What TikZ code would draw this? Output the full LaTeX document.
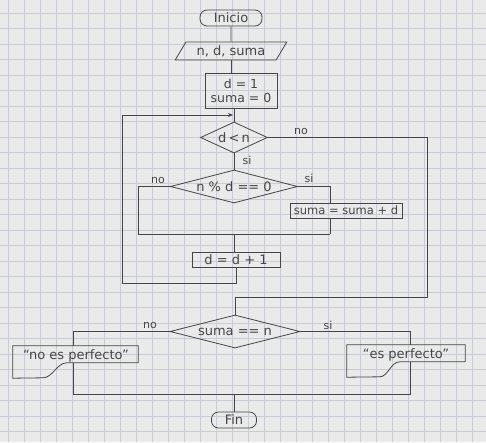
\documentclass[tikz,border=0pt]{standalone}
\usepackage{fontspec}
\setmainfont{DejaVu Sans}
\usetikzlibrary{shapes.geometric,calc,arrows.meta}
\definecolor{paper}{HTML}{EAEAEB}
\definecolor{gridc}{HTML}{CACCD3}
\definecolor{ink}{HTML}{454545}
\begin{document}
\begin{tikzpicture}[x=1pt,y=-1pt,
  every node/.style={font=\fontsize{13}{15}\selectfont, text=ink},
  ln/.style={draw=ink, line width=0.8pt},
  term/.style={ln, rectangle, rounded corners=7pt, minimum height=16pt, inner sep=1pt},
  io/.style={ln, trapezium, trapezium left angle=58, trapezium right angle=122, trapezium stretches=true, minimum height=18pt, inner sep=1pt},
  proc/.style={ln, rectangle, inner sep=1pt},
  dec/.style={ln, diamond, inner sep=0pt},
  docbox/.style={rectangle, inner sep=0pt},
  lbl/.style={font=\fontsize{11}{13}\selectfont, inner sep=1pt},
  con/.style={ln}
]
% paper and grid
\fill[paper] (0,0) rectangle (486,442);
\useasboundingbox (0,0) rectangle (486,442);
\foreach \i in {0,...,30} \draw[gridc, line width=0.6pt] ({8.5+16*\i},0) -- ({8.5+16*\i},442);
\foreach \j in {0,...,28} \draw[gridc, line width=0.6pt] (0,{13+15.5*\j}) -- (486,{13+15.5*\j});

% nodes
\node[term, minimum width=62pt] (ini) at (231,18) {Inicio};
\node[io, minimum width=112pt] (leer) at (231,51) {n, d, suma};
\node[proc, minimum width=72pt, minimum height=35pt, align=center, font=\fontsize{12.5}{14}\selectfont] (init) at (241,90.5) {d = 1\\suma = 0};
\node[dec, minimum width=67pt, minimum height=31pt, shape aspect=2.2] (c1) at (234,137.5) {d\,<\,n};
\node[dec, minimum width=127pt, minimum height=33pt, shape aspect=3.9] (c2) at (234,186.5) {n \% d == 0};
\node[proc, minimum width=112pt, minimum height=15pt, font=\fontsize{11.5}{13}\selectfont] (acum) at (346,210.5) {suma = suma + d};
\node[proc, minimum width=88pt, minimum height=15pt] (incr) at (236,259.5) {d = d + 1};
\node[dec, minimum width=130pt, minimum height=33pt, shape aspect=3.9] (c3) at (235,331.5) {suma == n};
\node[docbox, minimum width=125pt, minimum height=32pt] (o1) at (75.5,362) {};
\node (o1t) at (76,356) {``no es perfecto''};
\node[docbox, minimum width=118pt, minimum height=32pt] (o2) at (406,361) {};
\node (o2t) at (406,355) {``es perfecto''};
\node[term, minimum width=45pt] (fin) at (234,420) {Fin};

% document outlines
\draw[ln] (o1.north west) -- (o1.north east) -- ($(o1.north east)+(0,17)$)
  -- ($(o1.north west)+(54,17)$) .. controls ($(o1.north west)+(44,17)$) and ($(o1.north west)+(40,32)$) .. ($(o1.north west)+(30,32)$)
  -- (o1.south west) -- cycle;
\draw[ln] (o2.north west) -- (o2.north east) -- ($(o2.north east)+(0,17)$)
  -- ($(o2.north west)+(53,17)$) .. controls ($(o2.north west)+(44,17)$) and ($(o2.north west)+(41,32)$) .. ($(o2.north west)+(33,32)$)
  -- (o2.south west) -- cycle;

% helper coordinates
\coordinate (lt) at (122,115);
\coordinate (lb) at (122,283);
\coordinate (rc) at (427,297);
\coordinate (jl) at (138,234);
\coordinate (jr) at (330,234);
\coordinate (bl) at (73,394);
\coordinate (br) at (410,394);

% connectors
\draw[con] (ini.south) -- (leer.north);
\draw[con] (leer.south) -- (leer.south |- init.north);
\draw[con] (c1.north |- init.south) -- (c1.north);
\draw[con, -{Stealth[length=5pt,width=4pt]}] (incr.south) |- (lb) -- (lt) -- ($(lt -| c1.north)+(-1,0)$);
\draw[con] (c1.east) -| (rc) -| (c3.north);
\draw[con] (c1.south) -- (c2.north);
\draw[con] (c2.west) -| (jl) -- (jr);
\draw[con] (c2.east) -| (jr |- acum.north);
\draw[con] (jr |- acum.south) -- (jr);
\draw[con] (c2.south |- jl) -- (c2.south |- incr.north);
\draw[con] (c3.west) -| (bl |- o1.north);
\draw[con] (c3.east) -| (br |- o2.north);
\draw[con] ($(bl |- o1.north)+(0,17)$) -- (bl) -- (br) -- ($(br |- o2.north)+(0,17)$);
\draw[con] (fin.north |- bl) -- (fin.north);

% labels
\node[lbl] (l1) at (301,131) {no};
\node[lbl] (l2) at (247,160) {si};
\node[lbl] (l3) at (158,180) {no};
\node[lbl] (l4) at (309,178) {si};
\node[lbl] (l5) at (150,325) {no};
\node[lbl] (l6) at (328,325) {si};
\end{tikzpicture}
\end{document}
